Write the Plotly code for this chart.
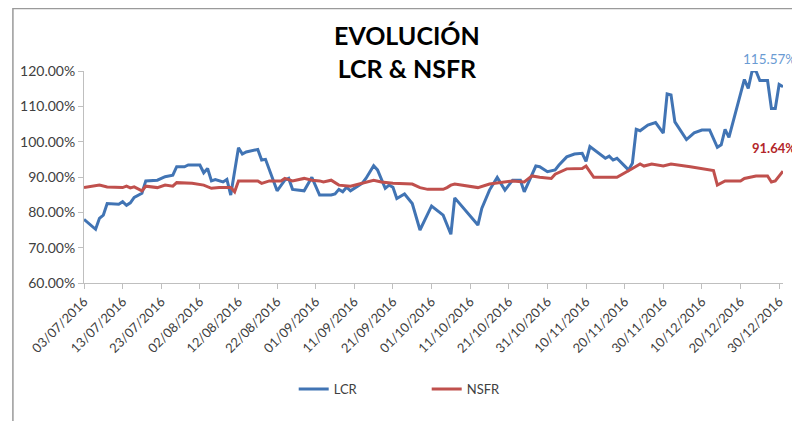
import plotly.graph_objects as go

lcr_dates = ['2016-07-03', '2016-07-06', '2016-07-07', '2016-07-08', '2016-07-09', '2016-07-12',
             '2016-07-13', '2016-07-14', '2016-07-15', '2016-07-16', '2016-07-18', '2016-07-19',
             '2016-07-22', '2016-07-24', '2016-07-26', '2016-07-27', '2016-07-29', '2016-07-30',
             '2016-08-02', '2016-08-03', '2016-08-04', '2016-08-05', '2016-08-06', '2016-08-07',
             '2016-08-08', '2016-08-09', '2016-08-10', '2016-08-12', '2016-08-13', '2016-08-14',
             '2016-08-17', '2016-08-18', '2016-08-19', '2016-08-21', '2016-08-22', '2016-08-24',
             '2016-08-25', '2016-08-26', '2016-08-29', '2016-08-31', '2016-09-02', '2016-09-05',
             '2016-09-06', '2016-09-07', '2016-09-08', '2016-09-09', '2016-09-10', '2016-09-13',
             '2016-09-14', '2016-09-16', '2016-09-17', '2016-09-19', '2016-09-20', '2016-09-21',
             '2016-09-22', '2016-09-24', '2016-09-26', '2016-09-28', '2016-10-01', '2016-10-04',
             '2016-10-06', '2016-10-07', '2016-10-13', '2016-10-14', '2016-10-16', '2016-10-18',
             '2016-10-20', '2016-10-22', '2016-10-24', '2016-10-25', '2016-10-28', '2016-10-29',
             '2016-10-31', '2016-11-02', '2016-11-03', '2016-11-05', '2016-11-07', '2016-11-09',
             '2016-11-10', '2016-11-11', '2016-11-15', '2016-11-16', '2016-11-17', '2016-11-18',
             '2016-11-21', '2016-11-22', '2016-11-23', '2016-11-24', '2016-11-26', '2016-11-28',
             '2016-11-30', '2016-12-01', '2016-12-02', '2016-12-03', '2016-12-06', '2016-12-08',
             '2016-12-10', '2016-12-12', '2016-12-14', '2016-12-15', '2016-12-16', '2016-12-17',
             '2016-12-21', '2016-12-22', '2016-12-23', '2016-12-24', '2016-12-25', '2016-12-27',
             '2016-12-28', '2016-12-29', '2016-12-30', '2016-12-31']
lcr_vals = [78.0, 75.2, 78.3, 79.2, 82.5, 82.3,
            83.0, 82.0, 82.7, 84.2, 85.4, 88.9,
            89.1, 90.1, 90.5, 92.9, 92.9, 93.4,
            93.4, 91.2, 92.4, 88.9, 89.3, 88.9,
            88.6, 89.3, 84.9, 98.3, 96.5, 97.1,
            97.8, 94.8, 95.0, 89.1, 86.1, 89.1,
            89.6, 86.5, 86.1, 89.9, 84.9, 84.9,
            85.2, 86.5, 85.8, 87.1, 86.1, 88.2,
            89.6, 93.2, 92.0, 86.8, 87.7, 87.1,
            83.9, 85.2, 82.5, 75.0, 81.8, 79.2,
            73.8, 84.1, 76.4, 81.1, 86.3, 89.9,
            86.3, 89.1, 89.1, 85.8, 93.1, 92.9,
            91.5, 92.0, 93.4, 95.7, 96.5, 96.7,
            94.4, 98.6, 95.3, 95.9, 94.8, 95.3,
            92.0, 93.9, 103.5, 103.1, 104.7, 105.4,
            102.4, 113.5, 113.2, 105.6, 100.6, 102.5,
            103.3, 103.3, 98.4, 99.1, 103.5, 101.2,
            117.6, 115.1, 120.0, 120.0, 117.3, 117.3,
            109.4, 109.4, 116.2, 115.57]

nsfr_dates = ['2016-07-03', '2016-07-07', '2016-07-09', '2016-07-13', '2016-07-14', '2016-07-15',
              '2016-07-16', '2016-07-18', '2016-07-19', '2016-07-22', '2016-07-24', '2016-07-26',
              '2016-07-27', '2016-07-31', '2016-08-03', '2016-08-05', '2016-08-07', '2016-08-10',
              '2016-08-11', '2016-08-12', '2016-08-17', '2016-08-18', '2016-08-20', '2016-08-23',
              '2016-08-24', '2016-08-26', '2016-08-29', '2016-08-31', '2016-09-02', '2016-09-03',
              '2016-09-05', '2016-09-07', '2016-09-10', '2016-09-13', '2016-09-16', '2016-09-18',
              '2016-09-21', '2016-09-26', '2016-09-28', '2016-09-30', '2016-10-04', '2016-10-05',
              '2016-10-06', '2016-10-07', '2016-10-10', '2016-10-13', '2016-10-16', '2016-10-19',
              '2016-10-22', '2016-10-25', '2016-10-27', '2016-10-29', '2016-11-01', '2016-11-02',
              '2016-11-05', '2016-11-09', '2016-11-10', '2016-11-12', '2016-11-18', '2016-11-22',
              '2016-11-24', '2016-11-25', '2016-11-27', '2016-11-30', '2016-12-02', '2016-12-07',
              '2016-12-13', '2016-12-14', '2016-12-16', '2016-12-20', '2016-12-21', '2016-12-24',
              '2016-12-27', '2016-12-28', '2016-12-29', '2016-12-31']
nsfr_vals = [87.0, 87.7, 87.2, 87.0, 87.4, 86.9,
             87.2, 86.1, 87.4, 87.0, 87.7, 87.4,
             88.4, 88.2, 87.7, 86.8, 87.0, 87.0,
             85.8, 88.9, 88.9, 88.2, 88.9, 88.9,
             89.6, 88.9, 89.6, 89.1, 88.9, 88.6,
             89.1, 87.7, 87.4, 88.2, 89.1, 88.6,
             88.2, 88.0, 87.0, 86.5, 86.5, 87.0,
             87.7, 88.0, 87.4, 87.0, 88.0, 88.4,
             88.9, 88.6, 90.3, 89.9, 89.6, 90.8,
             92.3, 92.4, 93.1, 89.9, 89.9, 92.4,
             93.7, 93.1, 93.7, 93.1, 93.7, 92.9,
             91.8, 87.7, 88.9, 88.9, 89.6, 90.3,
             90.3, 88.6, 88.9, 91.64]

BLUE = '#4174B4'
RED = '#C0504D'
FONT = 'Lato'

fig = go.Figure()
fig.add_trace(go.Scatter(x=lcr_dates, y=lcr_vals, name='LCR', mode='lines',
                         line=dict(color=BLUE, width=3)))
fig.add_trace(go.Scatter(x=nsfr_dates, y=nsfr_vals, name='NSFR', mode='lines',
                         line=dict(color=RED, width=3)))

# last-value labels
fig.add_annotation(x=lcr_dates[-1], y=lcr_vals[-1], text='%.2f%%' % lcr_vals[-1],
                   showarrow=False, xanchor='right', yanchor='middle', xshift=15, yshift=28,
                   font=dict(family=FONT, size=13.5, color='#6A9BD3'))
fig.add_annotation(x=nsfr_dates[-1], y=nsfr_vals[-1], text='<b>%.2f%%</b>' % nsfr_vals[-1],
                   showarrow=False, xanchor='right', yanchor='middle', xshift=15, yshift=23,
                   font=dict(family=FONT, size=13, color='#B3262A'))

# title
fig.add_annotation(xref='paper', yref='paper', x=0.462, y=1.09, yanchor='middle',
                   text='<b>EVOLUCIÓN</b><br><b>LCR & NSFR</b>', showarrow=False,
                   font=dict(family=FONT, size=25, color='black'))

# chart frame
fig.add_shape(type='rect', xref='paper', yref='paper', x0=-0.1017, x1=1.1, y0=-0.7, y1=1.2948,
              line=dict(color='#9A9A9A', width=1.5), fillcolor='rgba(0,0,0,0)', layer='below')

fig.update_layout(
    width=792, height=413,
    margin=dict(l=72, r=17, t=63, b=138),
    plot_bgcolor='white', paper_bgcolor='white',
    font=dict(family=FONT, color='#404040'),
    showlegend=True,
    legend=dict(orientation='h', x=0.3, y=-0.5, xanchor='left', yanchor='middle',
                entrywidth=88, font=dict(family=FONT, size=13, color='#404040')),
)
fig.update_xaxes(type='date', range=['2016-07-03', '2016-12-31'],
                 tick0='2016-07-03', dtick=10 * 86400000, tickformat='%d/%m/%Y',
                 tickangle=-45, tickfont=dict(size=13), showgrid=False,
                 showline=True, linecolor='#BFBFBF', linewidth=1,
                 ticks='outside', ticklen=5, tickcolor='#BFBFBF')
fig.update_yaxes(range=[60, 120], dtick=10, tickformat='.2f', ticksuffix='%',
                 tickfont=dict(size=14), showgrid=False, zeroline=False,
                 showline=True, linecolor='#BFBFBF', linewidth=1,
                 ticks='outside', ticklen=5, tickcolor='#BFBFBF')

fig.write_html('out.html')
